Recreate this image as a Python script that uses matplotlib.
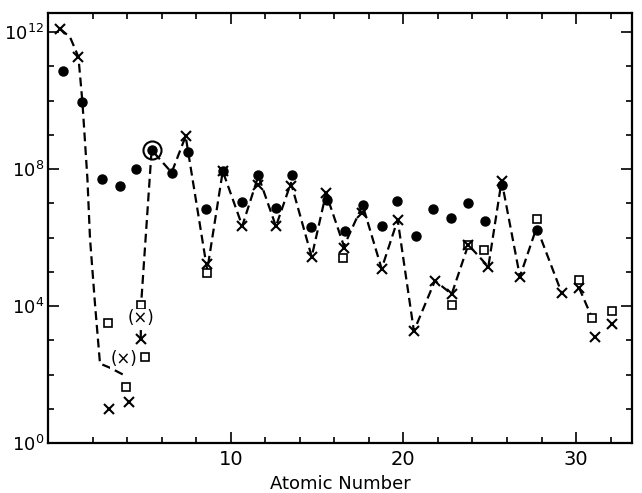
import numpy as np
import matplotlib
matplotlib.use("Agg")
import matplotlib.pyplot as plt
from matplotlib.ticker import FixedLocator, FuncFormatter, NullFormatter

# positions (the marks sit a bit left of whole Z),
# abundances kept as log10 values
calc_z = [0.12, 1.18, 2.95, 4.11, 4.79, 7.39, 8.64, 9.54, 10.67, 11.60, 12.62,
          13.49, 14.69, 15.52, 16.56, 17.62, 18.74, 19.67, 20.61, 21.83, 22.80,
          23.76, 24.92, 25.69, 26.75, 29.17, 30.17, 31.10, 32.06]
calc_log = [12.10, 11.28, 1.00, 1.21, 3.04, 8.96, 5.22, 7.94, 6.34, 7.55, 6.33,
            7.51, 5.44, 7.29, 5.70, 6.71, 5.09, 6.52, 3.27, 4.74, 4.35,
            5.79, 5.15, 7.66, 4.86, 4.38, 4.54, 3.11, 3.48]

sq_z = [2.88, 3.94, 4.81, 5.01, 8.64, 16.52, 22.83, 23.76, 24.68, 27.72, 30.17, 30.94, 32.06]
sq_log = [3.50, 1.63, 4.04, 2.51, 4.98, 5.40, 4.03, 5.79, 5.65, 6.54, 4.76, 3.64, 3.85]

obs_z = [0.31, 1.41, 2.57, 3.59, 4.52, 5.42, 6.58, 7.55, 8.57, 9.54, 10.64, 11.60,
         12.62, 13.57, 14.65, 15.56, 16.62, 17.64, 18.74, 19.61, 20.73, 21.69,
         22.74, 23.72, 24.72, 25.69, 27.72]
obs_log = [10.88, 9.97, 7.70, 7.50, 7.99, 8.56, 7.90, 8.50, 6.83, 7.94, 7.03, 7.82,
           6.86, 7.82, 6.30, 7.10, 6.20, 6.95, 6.33, 7.07, 6.06, 6.84,
           6.57, 7.00, 6.49, 7.53, 6.23]

# dashed curve, three pieces
curve1_z = [0.12, 0.7, 1.18, 1.41, 1.70, 1.85, 2.14, 2.43, 3.00, 3.76]
curve1_log = [12.10, 11.85, 11.28, 9.97, 7.73, 5.99, 4.06, 2.32, 2.20, 2.00]
curve2_z = [4.79, 4.81, 5.42, 6.58, 7.39, 8.64, 9.54, 10.67, 11.60, 12.62, 13.49,
            14.69, 15.52, 16.56, 17.64, 18.74, 19.67, 20.61, 21.83, 22.80, 23.76,
            24.92, 25.69, 26.75, 27.72, 29.17]
curve2_log = [3.04, 4.04, 8.56, 7.90, 8.96, 5.05, 7.94, 6.34, 7.80, 6.33, 7.60,
              5.44, 7.29, 5.75, 6.95, 5.09, 6.52, 3.27, 4.74, 4.35, 5.79,
              5.15, 7.66, 4.86, 6.30, 4.38]
curve3_z = [30.17, 30.94]
curve3_log = [4.54, 3.64]

circled = (5.42, 8.56)
paren_labels = [(3.82, 2.45), (4.81, 3.64)]

plt.rcParams['font.family'] = ['DejaVu Sans']
fig = plt.figure(figsize=(6.42, 4.93), dpi=100)
ax = fig.add_axes([0.0748, 0.1014, 0.9096, 0.8722])
ax.set_yscale('log')

for cz, cl in [(curve1_z, curve1_log), (curve2_z, curve2_log), (curve3_z, curve3_log)]:
    ax.plot(cz, 10 ** np.array(cl), color='black', lw=1.6, dashes=(4, 2.2), zorder=2)

ax.plot(sq_z, 10 ** np.array(sq_log), ls='none', marker='s', ms=5.5,
        mfc='white', mec='black', mew=1.2, zorder=3)
ax.plot(obs_z, 10 ** np.array(obs_log), ls='none', marker='o', ms=6.5,
        color='black', zorder=4)
ax.plot(calc_z, 10 ** np.array(calc_log), ls='none', marker='x', ms=7,
        mec='black', mew=1.5, zorder=5)
ax.plot([circled[0]], [10 ** circled[1]], ls='none', marker='o', ms=13,
        mfc='none', mec='black', mew=1.5, zorder=5)

for px, pl in paren_labels:
    ax.text(px, 10 ** pl, '(×)', ha='center', va='center', fontsize=12,
            bbox=dict(facecolor='white', edgecolor='none', pad=0.5), zorder=6)

ax.set_xlim(-0.58, 33.24)
ax.set_ylim(1, 10 ** 12.56)

ax.xaxis.set_major_locator(FixedLocator([10, 20, 30]))
ax.xaxis.set_minor_locator(FixedLocator([2, 4, 6, 8, 12, 14, 16, 18, 22, 24, 26, 28, 32]))
ax.yaxis.set_major_locator(FixedLocator([1e0, 1e4, 1e8, 1e12]))
ax.yaxis.set_minor_locator(FixedLocator([10.0 ** k for k in range(13) if k % 4]))
ax.yaxis.set_major_formatter(FuncFormatter(lambda v, p: r'$10^{%d}$' % round(np.log10(v))))
ax.yaxis.set_minor_formatter(NullFormatter())

ax.tick_params(which='both', direction='in', top=True, right=True, width=1.2,
               color='black')
ax.tick_params(which='major', length=8)
ax.tick_params(which='minor', length=4)
ax.tick_params(axis='x', which='major', labelsize=14, pad=5)
ax.tick_params(axis='y', which='major', labelsize=13, pad=3)
for s in ax.spines.values():
    s.set_linewidth(1.6)

ax.set_xlabel('Atomic Number', fontsize=13, labelpad=4)

fig.savefig('out.png', dpi=100)
